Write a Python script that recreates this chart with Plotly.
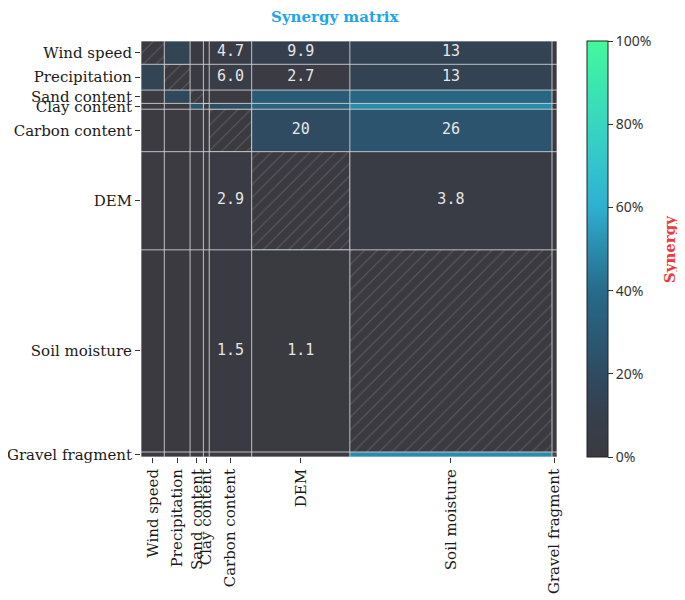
import numpy as np
import plotly.graph_objects as go

variables = ["Wind speed", "Precipitation", "Sand content", "Clay content",
             "Carbon content", "DEM", "Soil moisture", "Gravel fragment"]
# relative importance (%) -> cell widths / heights
importance = [5.6, 6.2, 3.2, 1.4, 10.2, 23.6, 48.6, 1.2]

# synergy (%) ; rows = y variable (top to bottom), cols = x variable; None = diagonal
syn_wind   = [None, 14.0, 1.5, 1.5, 4.7, 9.9, 13.0, 0.5]
syn_precip = [14.0, None, 1.5, 1.5, 6.0, 2.7, 13.0, 0.5]
syn_sand   = [1.0, 17.0, None, 1.5, 1.0, 30.0, 37.0, 0.5]
syn_clay   = [1.0, 1.0, 27.0, None, 22.0, 35.0, 50.0, 0.5]
syn_carbon = [1.0, 1.0, 1.0, 1.0, None, 20.0, 26.0, 0.5]
syn_dem    = [1.0, 1.0, 1.0, 1.0, 2.9, None, 3.8, 0.5]
syn_soil   = [0.5, 0.5, 0.5, 0.5, 1.5, 1.1, None, 0.5]
syn_gravel = [1.0, 3.0, 1.0, 1.0, 1.0, 1.0, 50.0, None]
synergy = [syn_wind, syn_precip, syn_sand, syn_clay, syn_carbon, syn_dem, syn_soil, syn_gravel]

cbar_ticks = [0, 20, 40, 60, 80, 100]

edges = np.concatenate([[0], np.cumsum(importance)])
centers = (edges[:-1] + edges[1:]) / 2
n = len(variables)

z = np.array([[np.nan if v is None else v for v in row] for row in synergy], dtype=float)

colorscale = [
    [0.0, "#3b3a40"], [0.1, "#363f4d"], [0.2, "#2f4b62"], [0.3, "#2b5a76"],
    [0.4, "#276b8a"], [0.5, "#2a8cad"], [0.6, "#2eb0d0"], [0.7, "#33c4cc"],
    [0.8, "#38d6c0"], [0.9, "#3ce7ae"], [1.0, "#44f89c"],
]

fig = go.Figure()
fig.add_trace(go.Heatmap(
    x=edges, y=edges, z=z, zmin=0, zmax=100, colorscale=colorscale,
    hoverinfo="skip",
    colorbar=dict(x=1.072, xanchor="left", xpad=0, ypad=0, y=0.5, yanchor="middle",
                  len=1, lenmode="fraction", thickness=21,
                  outlinecolor="#222", outlinewidth=1,
                  tickvals=cbar_ticks, ticktext=[f"{t}%" for t in cbar_ticks],
                  ticks="outside", ticklen=5, tickcolor="#333",
                  tickfont=dict(family="Noto Sans", size=14, color="#333")),
))

# hatched diagonal cells
hx, hy = [], []
for i in range(n):
    a, b = edges[i], edges[i + 1]
    hx += [a, b, b, a, a, None]
    hy += [a, a, b, b, a, None]
fig.add_trace(go.Scatter(
    x=hx, y=hy, mode="lines", fill="toself", line=dict(width=0),
    fillcolor="#3b3a40",
    fillpattern=dict(shape="/", bgcolor="#3b3a40", fgcolor="#7a7a80", size=9, solidity=0.12),
    hoverinfo="skip", showlegend=False,
))

# annotations for sufficiently large cells
tx, ty, tt = [], [], []
for i in range(n):
    for j in range(n):
        v = synergy[i][j]
        if v is None:
            continue
        if importance[j] >= 10 and importance[i] >= 5:
            tx.append(centers[j]); ty.append(centers[i])
            tt.append(f"{v:.1f}" if v < 10 else f"{v:.0f}")
fig.add_trace(go.Scatter(
    x=tx, y=ty, text=tt, mode="text",
    textfont=dict(family="DejaVu Sans Mono", size=15, color="#e6e6e6"),
    hoverinfo="skip", showlegend=False,
))

# grid lines at cell boundaries
shapes = []
for e in edges:
    shapes.append(dict(type="line", x0=e, x1=e, y0=0, y1=edges[-1], xref="x", yref="y",
                       line=dict(color="rgba(215,215,215,0.85)", width=1)))
    shapes.append(dict(type="line", y0=e, y1=e, x0=0, x1=edges[-1], xref="x", yref="y",
                       line=dict(color="rgba(215,215,215,0.85)", width=1)))
fig.update_layout(shapes=shapes)

axis_font = dict(family="DejaVu Serif", size=15, color="#1a1a1a")
fig.update_xaxes(range=[0, edges[-1]], tickvals=centers, ticktext=variables,
                 tickangle=-90, ticks="outside", ticklen=5, tickcolor="#333",
                 showgrid=False, zeroline=False, tickfont=axis_font, automargin=False)
fig.update_yaxes(range=[edges[-1], 0], tickvals=centers, ticktext=variables,
                 ticks="outside", ticklen=5, tickcolor="#333",
                 showgrid=False, zeroline=False, tickfont=axis_font, automargin=False)

fig.add_annotation(text="<b>Synergy</b>", xref="paper", yref="paper", x=1.272, y=0.5,
                   textangle=-90, showarrow=False, xanchor="center", yanchor="middle",
                   font=dict(family="DejaVu Serif", size=15, color="#ee3a3a"))

fig.update_layout(
    width=685, height=600,
    margin=dict(l=133, r=136, t=33, b=151, autoexpand=False),
    paper_bgcolor="white", plot_bgcolor="white",
    showlegend=False,
    title=dict(text="<b>Synergy matrix</b>", xref="container", yref="container",
               x=0.477, y=0.995, xanchor="center", yanchor="top", pad=dict(t=0),
               font=dict(family="DejaVu Serif", size=15, color="#1fa6ea")),
)

fig.write_html("out.html")
